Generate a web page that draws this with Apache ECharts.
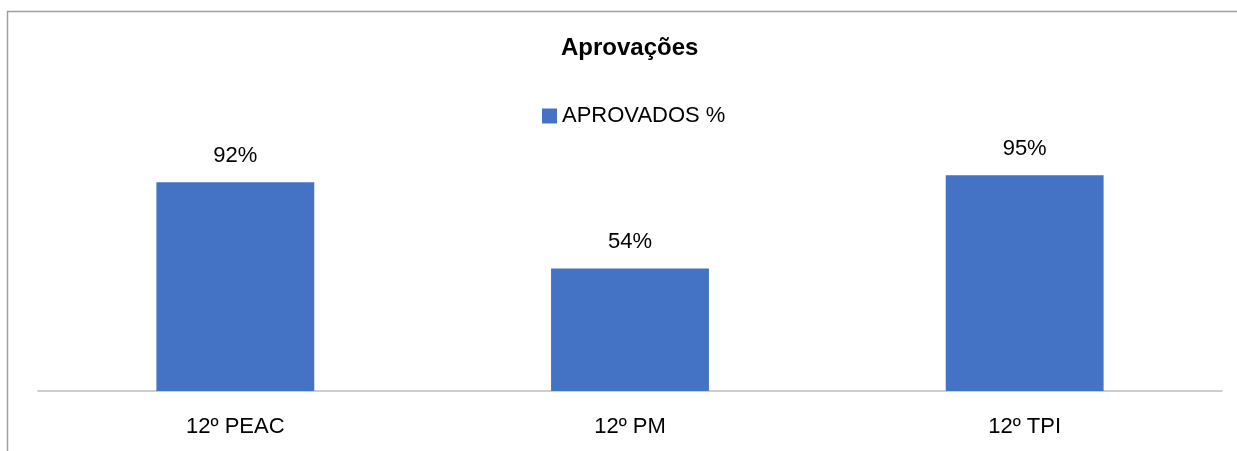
<!DOCTYPE html>
<html>
<head>
<meta charset="utf-8">
<script src="https://cdn.jsdelivr.net/npm/echarts@6/dist/echarts.min.js"></script>
<style>
  html, body { margin: 0; padding: 0; background: #ffffff; }
  #chart { width: 1237px; height: 451px; }
</style>
</head>
<body>
<div id="chart"></div>
<script>
// Approval rates per class
const categories = ['12º PEAC', '12º PM', '12º TPI'];
const approvedPct = [92, 54, 95];
const seriesName = 'APROVADOS %';
const chartTitle = 'Aprovações';

const FONT = '"Liberation Sans", Arial, sans-serif';

const chart = echarts.init(document.getElementById('chart'), null, { renderer: 'canvas' });

chart.setOption({
  backgroundColor: '#ffffff',
  animation: false,
  title: {
    text: chartTitle,
    left: 556,
    top: 31,
    textStyle: { fontFamily: FONT, fontSize: 24, fontWeight: 'bold', color: '#000000' }
  },
  legend: {
    data: [seriesName],
    left: 537,
    top: 100,
    itemWidth: 15,
    itemHeight: 15,
    itemGap: 6,
    icon: 'rect',
    textStyle: { fontFamily: FONT, fontSize: 22, color: '#000000', padding: [0, 0, 0, 0] }
  },
  grid: { left: 38, right: 15, top: 164, bottom: 60 },
  xAxis: {
    type: 'category',
    data: categories,
    axisLine: { show: true, lineStyle: { color: '#bfbfbf', width: 1.5 } },
    axisTick: { show: false },
    axisLabel: { fontFamily: FONT, fontSize: 22, color: '#000000', margin: 25 },
    splitLine: { show: false }
  },
  yAxis: {
    type: 'value',
    min: 0,
    max: 100,
    show: false
  },
  series: [{
    name: seriesName,
    type: 'bar',
    data: approvedPct,
    barWidth: '40%',
    itemStyle: { color: '#4472c4' },
    label: {
      show: true,
      position: 'top',
      distance: 15,
      formatter: p => p.value + '%',
      fontFamily: FONT,
      fontSize: 22,
      color: '#000000'
    }
  }],
  graphic: [{
    type: 'polyline',
    shape: { points: [[7.5, 451], [7.5, 11.5], [1237, 11.5]] },
    style: { stroke: '#a0a0a0', lineWidth: 1.5, fill: null },
    silent: true
  }]
});
</script>
</body>
</html>
